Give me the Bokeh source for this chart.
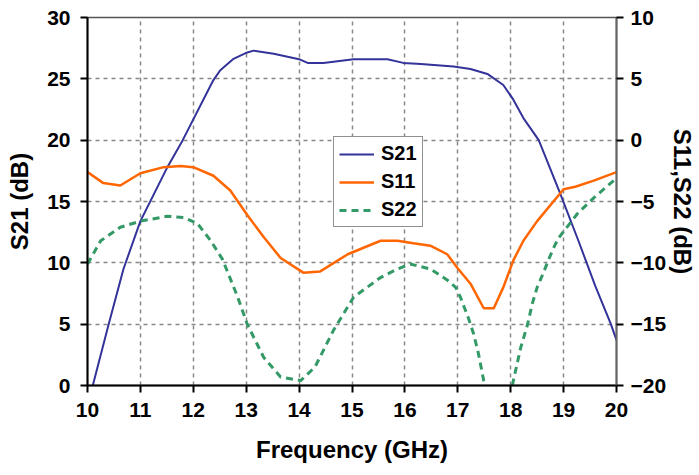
import math
from bokeh.plotting import figure
from bokeh.models import Range1d, LinearAxis, FixedTicker, Legend, LegendItem
from bokeh.embed import file_html
from bokeh.resources import INLINE

# ---- data ----
freq_s21 = [10.1, 10.4, 10.68, 11.0, 11.51, 11.8, 12.38, 12.51, 12.75, 12.99, 13.14, 13.52, 14.0, 14.16,
            14.46, 15.03, 15.67, 15.97, 16.3, 16.92, 17.24, 17.56, 17.86, 18.05, 18.24, 18.53, 18.94,
            19.28, 19.6, 19.89, 20.0]
s21 = [0, 5, 9.5, 13.4, 17.8, 20.0, 24.9, 25.7, 26.6, 27.1, 27.3, 27.05, 26.6, 26.3,
       26.3, 26.6, 26.6, 26.3, 26.2, 26.0, 25.8, 25.4, 24.5, 23.3, 21.8, 20.0, 15.6,
       11.8, 8.1, 5.05, 3.7]

freq_s11 = [10.0, 10.3, 10.62, 11.0, 11.44, 11.76, 12.0, 12.38, 12.7, 13.02, 13.33, 13.65, 14.08,
            14.4, 14.92, 15.54, 15.86, 16.16, 16.48, 16.8, 16.99, 17.24, 17.49, 17.68, 17.86,
            18.05, 18.24, 18.5, 19.0, 19.22, 19.57, 20.0]
s11 = [-2.6, -3.5, -3.7, -2.7, -2.2, -2.1, -2.2, -2.9, -4.1, -6.1, -7.9, -9.6, -10.8,
       -10.7, -9.3, -8.2, -8.2, -8.4, -8.6, -9.3, -10.4, -11.7, -13.7, -13.7, -12.0,
       -9.8, -8.2, -6.6, -4.0, -3.8, -3.3, -2.6]

nan = float("nan")
freq_s22 = [10.0, 10.25, 10.62, 11.0, 11.51, 11.82, 12.08, 12.33, 12.55, 12.84, 13.02, 13.33, 13.65,
            14.03, 14.3, 14.65, 15.03, 15.54, 15.86, 16.1, 16.48, 16.8, 16.96, 17.05, 17.2, 17.3,
            17.39, 17.49, 17.52, 17.75, 18.03, 18.19, 18.32, 18.41, 18.5, 18.62, 18.71, 18.81,
            18.9, 19.26, 19.57, 20.0]
s22 = [-10.1, -8.2, -7.1, -6.6, -6.2, -6.3, -6.8, -8.2, -9.7, -12.8, -15.0, -17.7, -19.3,
       -19.6, -18.5, -15.5, -12.8, -11.2, -10.5, -10.1, -10.5, -11.4, -12.0, -12.8, -14.5, -15.8,
       -17.4, -19.6, -20.0, nan, -20.0, -16.9, -15.0, -13.3, -12.0, -10.8, -9.8, -8.8,
       -8.0, -6.0, -4.7, -3.1]

x_ticks = list(range(10, 21))
left_ticks = [0, 5, 10, 15, 20, 25, 30]
right_ticks = [-20, -15, -10, -5, 0, 5, 10]

FONT = "Liberation Sans"

p = figure(width=699, height=475, x_range=Range1d(10, 20), y_range=Range1d(0, 30),
           output_backend="svg", toolbar_location=None,
           min_border_left=87, min_border_right=83, min_border_top=17, min_border_bottom=90)
p.extra_y_ranges = {"r": Range1d(-20, 10)}
p.background_fill_color = "white"
p.border_fill_color = "white"
p.outline_line_color = "#555555"
p.outline_line_width = 1.5

raxis = LinearAxis(y_range_name="r")
p.add_layout(raxis, "right")

for ax, ticks in ((p.xaxis[0], x_ticks), (p.yaxis[0], left_ticks), (raxis, right_ticks)):
    ax.ticker = FixedTicker(ticks=ticks)
    ax.major_label_text_font = FONT
    ax.major_label_text_font_style = "bold"
    ax.major_label_text_font_size = "21px"
    ax.major_label_text_color = "black"
    ax.axis_label_text_font = FONT
    ax.axis_label_text_font_style = "bold"
    ax.axis_label_text_font_size = "24px"
    ax.axis_label_text_color = "black"
    ax.major_tick_in = 0
    ax.major_tick_out = 7
    ax.major_tick_line_color = "black"
    ax.major_tick_line_width = 2
    ax.minor_tick_line_color = None
    ax.axis_line_color = "black"
    ax.axis_line_width = 2
    ax.major_label_standoff = 10

p.xaxis.axis_label_standoff = 16
p.yaxis[0].axis_label_standoff = 11
raxis.axis_label_standoff = 0
raxis.major_label_standoff = 7

raxis.axis_line_color = "#666666"
p.xaxis.axis_label = "Frequency (GHz)"
p.yaxis[0].axis_label = "S21 (dB)"
raxis.axis_label = "S11,S22 (dB)"

p.xgrid.ticker = FixedTicker(ticks=x_ticks)
p.ygrid.ticker = FixedTicker(ticks=left_ticks)
for g in (p.xgrid, p.ygrid):
    g.grid_line_color = "#888888"
    g.grid_line_dash = "4 4"
    g.grid_line_width = 1.5

r21 = p.line(freq_s21, s21, line_color="#333399", line_width=2)
r11 = p.line(freq_s11, s11, line_color="#FF6600", line_width=2.5, y_range_name="r")
r22 = p.line(freq_s22, s22, line_color="#339966", line_width=3, line_dash="7 5", y_range_name="r")

legend = Legend(items=[LegendItem(label="S21", renderers=[r21]),
                       LegendItem(label="S11", renderers=[r11]),
                       LegendItem(label="S22", renderers=[r22])],
                location=(246, 158))
legend.label_text_font = FONT
legend.label_text_font_style = "bold"
legend.label_text_font_size = "20px"
legend.label_text_color = "black"
legend.border_line_color = "#222222"
legend.border_line_width = 1.5
legend.background_fill_color = "white"
legend.background_fill_alpha = 1
legend.padding = 5
legend.spacing = 5
legend.glyph_width = 35
legend.glyph_height = 22
legend.label_height = 22
legend.label_standoff = 7
legend.margin = 0
p.add_layout(legend, "center")

open("out.html", "w").write(file_html(p, INLINE))
